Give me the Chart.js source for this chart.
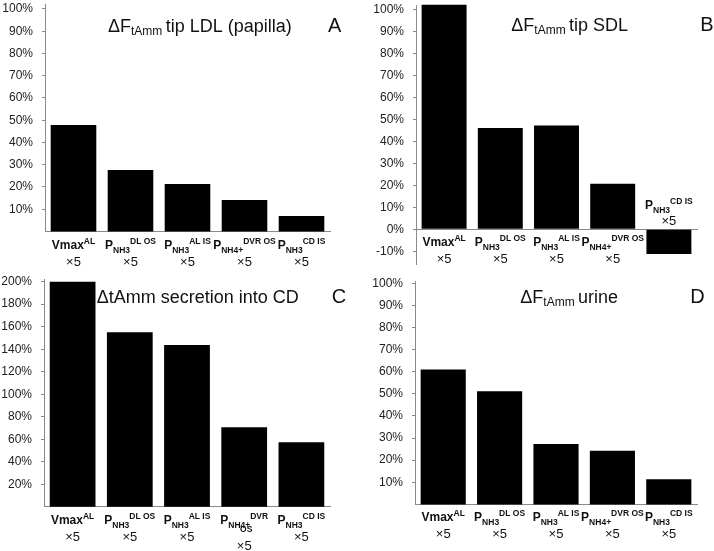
<!DOCTYPE html>
<html><head><meta charset="utf-8">
<script src="https://cdn.jsdelivr.net/npm/chart.js@4.4.0/dist/chart.umd.min.js"></script>
<style>
html,body{margin:0;padding:0;background:#fff;}
#wrap{position:relative;width:714px;height:551px;overflow:hidden;background:#fff;}
canvas{position:absolute;}
</style></head><body>
<div id="wrap">
<canvas id="cA" width="357" height="270" style="left:0;top:0"></canvas>
<canvas id="cB" width="357" height="270" style="left:357px;top:0"></canvas>
<canvas id="cC" width="357" height="281" style="left:0;top:270px"></canvas>
<canvas id="cD" width="357" height="281" style="left:357px;top:270px"></canvas>
</div>
<script>
// ---- data ----
const categoryMain = ['Vmax', 'P', 'P', 'P', 'P'];
const categorySub = ['', 'NH3', 'NH3', 'NH4+', 'NH3'];
const categorySup = ['AL', 'DL OS', 'AL IS', 'DVR OS', 'CD IS'];
const categoryFactor = ['×5', '×5', '×5', '×5', '×5'];

const valuesA = [47.8, 27.6, 21.3, 14.2, 7.0];
const valuesB = [102.3, 46.2, 47.3, 20.7, -11.3];
const valuesC = [200, 155, 143.8, 70.6, 57.3];
const valuesD = [61.0, 51.2, 27.3, 24.3, 11.4];

const yTicksA = [10, 20, 30, 40, 50, 60, 70, 80, 90, 100];
const yTicksB = [-10, 0, 10, 20, 30, 40, 50, 60, 70, 80, 90, 100];
const yTicksC = [20, 40, 60, 80, 100, 120, 140, 160, 180, 200];
const yTicksD = [10, 20, 30, 40, 50, 60, 70, 80, 90, 100];

const titleA = ['ΔF', 'tAmm', 'tip LDL (papilla)'];
const titleB = ['ΔF', 'tAmm', 'tip SDL'];
const titleC = ['ΔtAmm secretion into CD', '', ''];
const titleD = ['ΔF', 'tAmm', 'urine'];
const panelLetters = ['A', 'B', 'C', 'D'];

// ---- drawing ----
const FONT = '"Liberation Sans", Arial, Helvetica, sans-serif';

function drawSegs(ctx, segs, x0, base, center) {
  let total = 0;
  segs.forEach(s => { ctx.font = s.font; s.w = ctx.measureText(s.text).width; total += s.w; });
  let x = center ? x0 - total / 2 : x0;
  segs.forEach(s => { ctx.font = s.font; ctx.fillText(s.text, x, base + s.dy); x += s.w; });
}

const richPlugin = {
  id: 'richLabels',
  afterDatasetsDraw(chart, args, opts) {
    const ctx = chart.ctx;
    const xs = chart.scales.x, ys = chart.scales.y;
    const zero = ys.getPixelForValue(0);
    const data = chart.data.datasets[0].data;
    ctx.save();
    ctx.fillStyle = '#111';
    ctx.textBaseline = 'alphabetic';
    ctx.textAlign = 'left';
    for (let i = 0; i < categoryMain.length; i++) {
      const cx = xs.getPixelForValue(i);
      let sup = categorySup[i], extra = '';
      if (opts.wrap === i) {
        const parts = sup.split(' ');
        sup = parts[0];
        extra = parts.slice(1).join(' ');
      }
      const segs = [{text: categoryMain[i], font: 'bold 12px ' + FONT, dy: 0}];
      if (categorySub[i]) segs.push({text: categorySub[i], font: 'bold 8.5px ' + FONT, dy: 4});
      if (sup) segs.push({text: sup, font: 'bold 8.5px ' + FONT, dy: -5});
      let b1, b2;
      if (data[i] < 0) { b1 = zero - 20; b2 = zero - 4; }
      else { b1 = zero + 17; b2 = zero + 34; }
      drawSegs(ctx, segs, cx, b1, true);
      if (extra) {
        drawSegs(ctx, [{text: extra, font: 'bold 8.5px ' + FONT, dy: 0}], cx + 2, b1 + 8, true);
        b2 += 9;
      }
      drawSegs(ctx, [{text: categoryFactor[i], font: '13px ' + FONT, dy: 0}], cx, b2, true);
    }
    // title
    const t = opts.title;
    const tsegs = [{text: t[0], font: '18px ' + FONT, dy: 0}];
    if (t[1]) tsegs.push({text: t[1] + ' ', font: '12px ' + FONT, dy: 3});
    if (t[2]) tsegs.push({text: t[2], font: '18px ' + FONT, dy: 0});
    drawSegs(ctx, tsegs, opts.tx, opts.ty, false);
    drawSegs(ctx, [{text: opts.letter, font: '20px ' + FONT, dy: 0}], opts.lx, opts.ty, false);
    ctx.restore();
  }
};

function makeChart(id, values, yTicks, min, max, yWidth, pad, xAtZero, extra) {
  const xScale = {
    type: 'category',
    offset: true,
    grid: {display: false, drawTicks: false},
    ticks: {display: false},
    border: {display: true, color: '#8a8a8a', width: 1}
  };
  if (xAtZero) xScale.position = {y: 0};
  return new Chart(document.getElementById(id), {
    type: 'bar',
    data: {
      labels: categoryMain.map((m, i) => m + categorySub[i] + ' ' + categorySup[i] + ' ' + categoryFactor[i]),
      datasets: [{
        data: values,
        backgroundColor: '#000',
        borderWidth: 0,
        barPercentage: 0.8,
        categoryPercentage: 1.0,
        clip: false
      }]
    },
    options: {
      responsive: false,
      animation: false,
      devicePixelRatio: 1,
      layout: {padding: pad},
      plugins: {legend: {display: false}, tooltip: {enabled: false}, title: {display: false},
                richLabels: extra},
      scales: {
        x: xScale,
        y: {
          type: 'linear',
          min: min, max: max,
          afterBuildTicks: (s) => { s.ticks = yTicks.map(v => ({value: v})); },
          afterFit: (s) => { s.width = yWidth; s.paddingTop = 0; s.paddingBottom = 0; },
          grid: {display: true, drawOnChartArea: false, drawTicks: true, tickLength: 3, color: '#8a8a8a'},
          border: {display: true, color: '#8a8a8a', width: 1},
          ticks: {
            padding: 9,
            color: '#222',
            font: {family: FONT, size: 12},
            callback: (v) => v + '%'
          }
        }
      }
    },
    plugins: [richPlugin]
  });
}

makeChart('cA', valuesA, yTicksA, 0, 102, 45, {top: 4.5, bottom: 38.5, left: 0, right: 27}, false,
  {title: titleA, letter: panelLetters[0], tx: 108, ty: 32, lx: 328});
makeChart('cB', valuesB, yTicksB, -16, 102, 59, {top: 5.4, bottom: 5.6, left: 0, right: 17}, true,
  {title: titleB, letter: panelLetters[1], tx: 154.3, ty: 30.7, lx: 343.3});
makeChart('cC', valuesC, yTicksC, 0, 202, 44, {top: 9.4, bottom: 44.2, left: 0, right: 27}, false,
  {title: titleC, letter: panelLetters[2], tx: 96.7, ty: 33.3, lx: 331.7, wrap: 3});
makeChart('cD', valuesD, yTicksD, 0, 101, 58, {top: 11.1, bottom: 46.6, left: 0, right: 17}, false,
  {title: titleD, letter: panelLetters[3], tx: 163.3, ty: 33.3, lx: 333.3});
</script>
</body></html>
